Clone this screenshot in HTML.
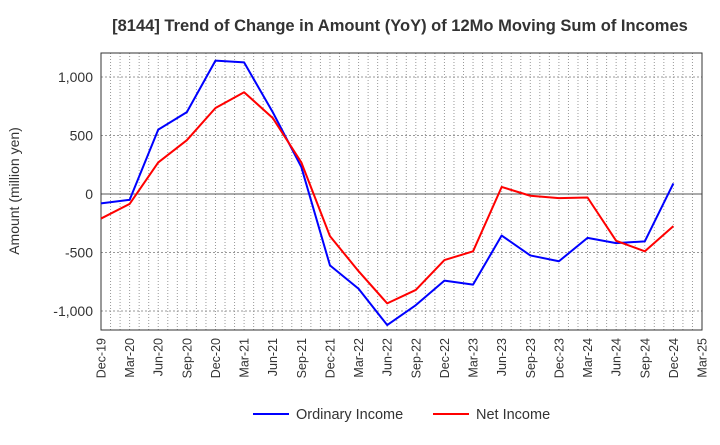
<!DOCTYPE html>
<html><head><meta charset="utf-8"><style>
body{margin:0;background:#fff;font-family:"Liberation Sans",sans-serif;}
</style></head><body>
<svg id="c" width="720" height="440" xmlns="http://www.w3.org/2000/svg">
<text x="400" y="31" text-anchor="middle" font-size="16.5" font-weight="bold" fill="#333">[8144]  Trend of Change in Amount (YoY) of 12Mo Moving Sum of Incomes</text>
<text transform="translate(19,191) rotate(-90)" text-anchor="middle" font-size="14" fill="#333">Amount (million yen)</text>
<g id="grid"></g><g id="axes"></g><g id="series"></g>
<g>
<line x1="253" y1="414" x2="289" y2="414" stroke="#0000ff" stroke-width="2"/>
<text x="296" y="419" font-size="14.5" fill="#333">Ordinary Income</text>
<line x1="433" y1="414" x2="469" y2="414" stroke="#ff0000" stroke-width="2"/>
<text x="476" y="419" font-size="14.5" fill="#333">Net Income</text>
</g>
</svg>
<script>
const categories=["Dec-19","Mar-20","Jun-20","Sep-20","Dec-20","Mar-21","Jun-21","Sep-21","Dec-21","Mar-22","Jun-22","Sep-22","Dec-22","Mar-23","Jun-23","Sep-23","Dec-23","Mar-24","Jun-24","Sep-24","Dec-24","Mar-25"];
const ordinaryIncome=[-80,-50,550,700,1140,1125,700,230,-610,-810,-1120,-950,-740,-775,-355,-525,-575,-375,-420,-405,90];
const netIncome=[-210,-85,270,460,735,870,650,270,-360,-660,-935,-820,-565,-490,60,-15,-35,-30,-400,-490,-275];
const yTicks=[1000,500,0,-500,-1000];
const yTickLabels=["1,000","500","0","-500","-1,000"];
const NS="http://www.w3.org/2000/svg";
const L=101,R=702,T=53,B=330;
const xs=i=>L+(R-L)*i/(categories.length-1);
const ys=v=>194-v*58.5/500;
function mk(tag,attrs,parent){const e=document.createElementNS(NS,tag);for(const k in attrs)e.setAttribute(k,attrs[k]);document.getElementById(parent).appendChild(e);return e;}
for(let m=0;m<=63;m++){const x=L+(R-L)*m/63;const g=mk('line',{x1:x,y1:T,x2:x,y2:B,stroke:'#999','stroke-width':1,'stroke-dasharray':'1,2'},'grid');

}
yTicks.forEach((v,i)=>{const y=ys(v);
const g=mk('line',{x1:L,y1:y,x2:R,y2:y,stroke:v===0?'#555':'#999','stroke-width':1,'stroke-dasharray':v===0?'':'2,2'},'grid');


const t=mk('text',{x:L-8,y:y+5,'text-anchor':'end','font-size':14,fill:'#333'},'axes');t.textContent=yTickLabels[i];

});
const fr=mk('rect',{x:L,y:T,width:R-L,height:B-T,fill:'none',stroke:'#333','stroke-width':1},'axes');


categories.forEach((c,i)=>{const x=xs(i);
const t=mk('text',{transform:`translate(${x+4.5},${B+8}) rotate(-90)`,'text-anchor':'end','font-size':12.5,fill:'#333'},'axes');t.textContent=c;

});
function line(data,color,name){const p=mk('polyline',{points:data.map((v,i)=>xs(i)+','+ys(v)).join(' '),fill:'none',stroke:color,'stroke-width':2,'stroke-linejoin':'round'},'series');

}
line(ordinaryIncome,'#0000ff','ordinary-income-line');
line(netIncome,'#ff0000','net-income-line');
</script>
</body></html>
